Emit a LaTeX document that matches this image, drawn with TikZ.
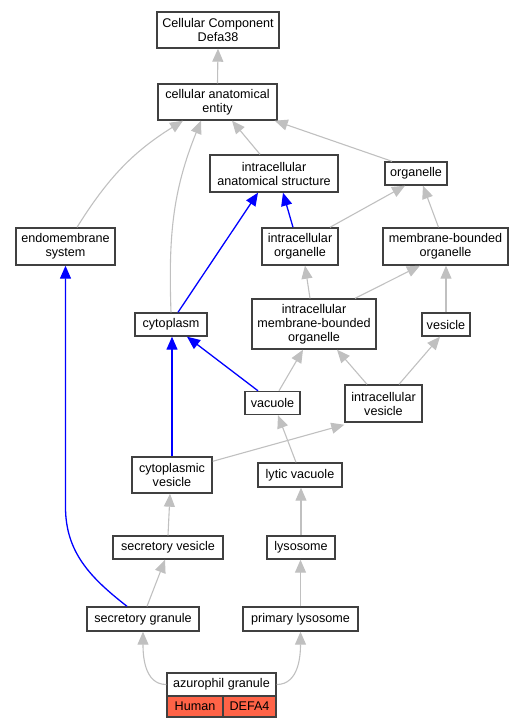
\documentclass[tikz,border=0pt]{standalone}
\usepackage{fontspec}
\setmainfont{Liberation Sans}
\usetikzlibrary{arrows.meta}
\definecolor{edgegray}{HTML}{C0C0C0}
\definecolor{boxborder}{HTML}{404040}
\definecolor{tomatored}{HTML}{FF6347}
\tikzset{
  box/.style={draw=boxborder, line width=1.4pt, fill=white, inner sep=0pt, align=center,
    font=\fontsize{12.6}{14}\selectfont},
  gedge/.style={draw=edgegray, line width=1.1pt, -{Triangle[length=13pt,width=11pt]}, color=edgegray},
  bedge/.style={draw=blue, line width=1.3pt, -{Triangle[length=13pt,width=11pt]}, color=blue},
}
\begin{document}
\begin{tikzpicture}[x=1pt,y=-1pt]
\useasboundingbox (0,0) rectangle (523,728);
% nodes
\node[box, minimum width=122pt, minimum height=36pt] (cc) at (218,30) {Cellular Component\\Defa38};
\node[box, minimum width=119pt, minimum height=36pt] (cae) at (217.5,102) {cellular anatomical\\entity};
\node[box, minimum width=128pt, minimum height=37pt] (ias) at (274,173.5) {intracellular\\anatomical structure};
\node[box, minimum width=62pt, minimum height=23pt] (org) at (416,173.5) {organelle};
\node[box, minimum width=99pt, minimum height=37pt] (ems) at (65.5,246.5) {endomembrane\\system};
\node[box, minimum width=76pt, minimum height=37pt] (io) at (300,246.5) {intracellular\\organelle};
\node[box, minimum width=125pt, minimum height=37pt] (mbo) at (445.5,246.5) {membrane-bounded\\organelle};
\node[box, minimum width=72pt, minimum height=23pt] (cyt) at (171,324.5) {cytoplasm};
\node[box, minimum width=124pt, minimum height=50pt] (imbo) at (314,324) {intracellular\\membrane-bounded\\organelle};
\node[box, minimum width=48pt, minimum height=23pt] (ves) at (446,324.5) {vesicle};
\node[box, minimum width=55pt, minimum height=23pt] (vac) at (272.5,403) {vacuole};
\node[box, minimum width=77pt, minimum height=37pt] (iv) at (383.5,403.5) {intracellular\\vesicle};
\node[box, minimum width=80pt, minimum height=36pt] (cv) at (172,475) {cytoplasmic\\vesicle};
\node[box, minimum width=84pt, minimum height=24pt] (lv) at (300,475) {lytic vacuole};
\node[box, minimum width=110pt, minimum height=23pt] (sv) at (168,547.5) {secretory vesicle};
\node[box, minimum width=68pt, minimum height=23pt] (lys) at (301,547.5) {lysosome};
\node[box, minimum width=112pt, minimum height=24pt] (sg) at (143,619) {secretory granule};
\node[box, minimum width=115pt, minimum height=24pt] (pl) at (300.5,619) {primary lysosome};
\node[box, minimum width=109pt, minimum height=23pt] (az) at (221.5,684.5) {azurophil granule};
\node[box, fill=tomatored, minimum width=56pt, minimum height=21pt] (hum) at (195,706.5) {Human};
\node[box, fill=tomatored, minimum width=53pt, minimum height=21pt] (defa) at (249.5,706.5) {DEFA4};
\coordinate (bend) at (65.5,507);
% edges
\draw[gedge] (cae.north) -- (cc.south);
\draw[gedge] ([xshift=11.5pt]ems.north) to[out=58,in=-148] ([xshift=-34.5pt]cae.south);
\draw[gedge] (cyt.north) to[out=92,in=-112] ([xshift=-16.5pt]cae.south);
\draw[gedge] ([xshift=-14pt]ias.north) -- ([xshift=14.5pt]cae.south);
\draw[gedge] ([xshift=-24pt]org.north) -- ([xshift=-3pt]cae.south east);
\draw[bedge] ([xshift=7pt]cyt.north) -- ([xshift=-16pt]ias.south);
\draw[bedge] ([xshift=-7pt]io.north) -- ([xshift=9pt]ias.south);
\draw[gedge] ([xshift=30pt]io.north) -- ([xshift=-11pt]org.south);
\draw[gedge] ([xshift=-7pt]mbo.north) -- ([xshift=7pt]org.south);
\draw[gedge] ([xshift=-4pt]imbo.north) -- ([xshift=5pt]io.south);
\draw[gedge] ([xshift=41pt]imbo.north) -- ([xshift=-25.5pt]mbo.south);
\draw[gedge] (ves.north) -- (ves.north |- mbo.south);
\draw[bedge] ([xshift=-14.5pt]vac.north) -- ([xshift=16pt]cyt.south);
\draw[gedge] ([xshift=6.5pt]vac.north) -- ([xshift=-11pt]imbo.south);
\draw[gedge] ([xshift=-16.5pt]iv.north) -- ([xshift=23pt]imbo.south);
\draw[gedge] ([xshift=15.5pt]iv.north) -- ([xshift=-6pt]ves.south);
\draw[bedge] (cv.north) -- (cv.north |- cyt.south);
\draw[gedge] ([yshift=-5pt]cv.north east) -- ([yshift=-2pt]iv.south west);
\draw[gedge] ([xshift=-4pt]lv.north) -- ([xshift=5.5pt]vac.south);
\draw[gedge] (sv.north) -- ([xshift=-2pt]cv.south);
\draw[gedge] (lys.north) -- (lys.north |- lv.south);
\draw[gedge] ([xshift=4pt]sg.north) -- ([xshift=-3pt]sv.south);
\draw[bedge] ([xshift=-16pt]sg.north) to[out=142,in=-90] (bend) -- (ems.south);
\draw[gedge] (pl.north) -- (pl.north |- lys.south);
\draw[gedge] (az.west) to[out=180,in=-90] (sg.south);
\draw[gedge] (az.east) to[out=0,in=-90] (pl.south);
\end{tikzpicture}
\end{document}
